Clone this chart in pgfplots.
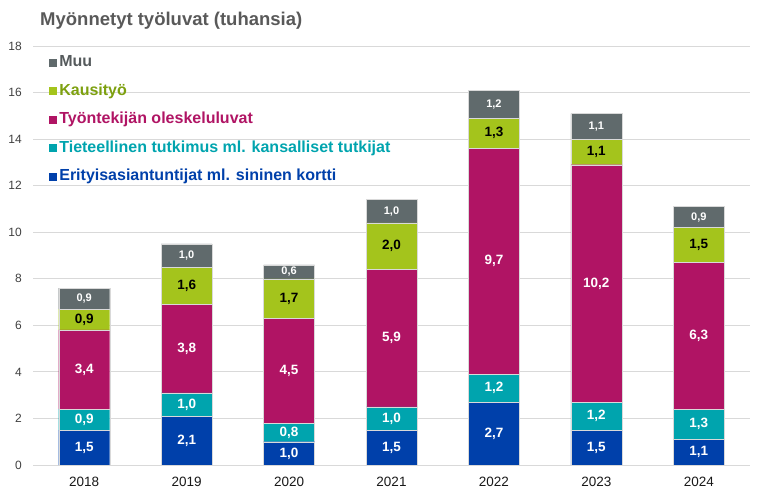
\documentclass[border=0pt]{standalone}
\usepackage{pgfplots}
\usepackage{pgfplotstable}
\pgfplotsset{compat=1.18}
\usepackage{fontspec}
\setmainfont{Liberation Sans}
\definecolor{cMuu}{RGB}{96,106,108}
\definecolor{cKau}{RGB}{164,196,28}
\definecolor{cTyo}{RGB}{176,20,100}
\definecolor{cTie}{RGB}{0,164,174}
\definecolor{cEri}{RGB}{0,64,170}
\definecolor{tMuu}{RGB}{85,90,92}
\definecolor{tKau}{RGB}{125,160,15}
\definecolor{titlegray}{RGB}{89,89,89}
\pgfplotstableread{
x eri tie tyo kau muu
0 1.5 0.9 3.4 0.9 0.9
1 2.1 1.0 3.8 1.6 1.0
2 1.0 0.8 4.5 1.7 0.6
3 1.5 1.0 5.9 2.0 1.0
4 2.7 1.2 9.7 1.3 1.2
5 1.5 1.2 10.2 1.1 1.1
6 1.1 1.3 6.3 1.5 0.9
}\data
% label positions: middle of each stacked segment
\pgfplotstablecreatecol[create col/expr={\thisrow{eri}/2}]{meri}\data
\pgfplotstablecreatecol[create col/expr={\thisrow{eri}+\thisrow{tie}/2}]{mtie}\data
\pgfplotstablecreatecol[create col/expr={\thisrow{eri}+\thisrow{tie}+\thisrow{tyo}/2}]{mtyo}\data
\pgfplotstablecreatecol[create col/expr={\thisrow{eri}+\thisrow{tie}+\thisrow{tyo}+\thisrow{kau}/2}]{mkau}\data
\pgfplotstablecreatecol[create col/expr={\thisrow{eri}+\thisrow{tie}+\thisrow{tyo}+\thisrow{kau}+\thisrow{muu}/2}]{mmuu}\data
\pgfplotsset{
  frame/.style={at={(33pt,34pt)}, anchor=south west,
    scale only axis, width=717pt, height=419pt,
    xmin=-0.5, xmax=6.5, ymin=0, ymax=18},
  vlabel/.style={draw=none, mark=none, point meta=explicit,
    nodes near coords={\pgfmathprintnumber[fixed,fixed zerofill,precision=1,use comma,assume math mode=true]{\pgfplotspointmeta}},
    every node near coord/.style={anchor=center, inner sep=0pt, #1}},
}
\begin{document}
\begin{tikzpicture}
\useasboundingbox (0,0) rectangle (768pt,499pt);
\node[anchor=base west, font=\bfseries\fontsize{18.5}{22}\selectfont, text=titlegray, inner sep=0pt] at (40pt,473pt) {Myönnetyt työluvat (tuhansia)};
\begin{axis}[
  frame,
  ybar stacked, bar width=51pt,
  xtick=data, xticklabels={2018,2019,2020,2021,2022,2023,2024},
  ytick={0,2,...,18},
  ymajorgrids,
  major grid style={draw=black!15, line width=0.8pt},
  extra y ticks={0}, extra y tick labels={},
  extra y tick style={grid style={draw=black!30, line width=0.8pt}},
  axis line style={draw=none},
  major tick length=0pt, minor tick length=0pt,
  /pgf/number format/assume math mode=true,
  yticklabel style={font=\fontsize{12}{14}\selectfont, text=black!75, inner sep=0pt, xshift=-11pt},
  xticklabel style={font=\fontsize{13.5}{16}\selectfont, text=black!90, inner sep=0pt, yshift=-12pt},
  reverse legend,
  legend cell align=left,
  legend style={at={(0.0225,0.982)}, anchor=north west, draw=none, fill=none,
    inner sep=0pt, row sep=10.5pt,
    font=\bfseries\fontsize{16}{18}\selectfont,
    nodes={text height=11pt, text depth=3pt, inner sep=2pt}},
  legend image code/.code={\fill[#1, draw=none] (-2pt,-4pt) rectangle (6pt,4pt);},
  every axis plot/.append style={draw=white!85!black, line width=0.4pt},
]
\addplot[fill=cEri] table[x=x,y=eri]{\data};
\addplot[fill=cTie] table[x=x,y=tie]{\data};
\addplot[fill=cTyo] table[x=x,y=tyo]{\data};
\addplot[fill=cKau] table[x=x,y=kau]{\data};
\addplot[fill=cMuu] table[x=x,y=muu]{\data};
\legend{\textcolor{cEri}{Erityisasiantuntijat ml. sininen kortti},
  \textcolor{cTie}{Tieteellinen tutkimus ml. kansalliset tutkijat},
  \textcolor{cTyo}{Työntekijän oleskeluluvat},
  \textcolor{tKau}{Kausityö},
  \textcolor{tMuu}{Muu}}
\end{axis}
\begin{axis}[frame, hide axis]
\addplot[vlabel={text=white, font=\bfseries\fontsize{13.5}{16}\selectfont}] table[x=x,y=meri,meta=eri]{\data};
\addplot[vlabel={text=white, font=\bfseries\fontsize{13.5}{16}\selectfont}] table[x=x,y=mtie,meta=tie]{\data};
\addplot[vlabel={text=white, font=\bfseries\fontsize{13.5}{16}\selectfont}] table[x=x,y=mtyo,meta=tyo]{\data};
\addplot[vlabel={text=black, font=\bfseries\fontsize{13.5}{16}\selectfont}] table[x=x,y=mkau,meta=kau]{\data};
\addplot[vlabel={text=white, font=\bfseries\fontsize{11}{13}\selectfont}] table[x=x,y=mmuu,meta=muu]{\data};
\end{axis}
\end{tikzpicture}
\end{document}
